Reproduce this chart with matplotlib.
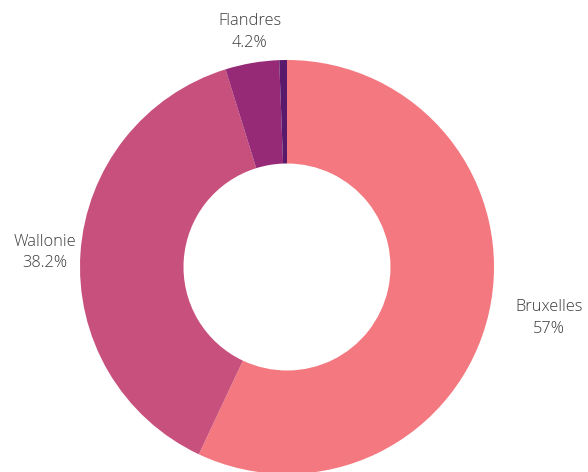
import numpy as np
import matplotlib.pyplot as plt

regions = ['Bruxelles', 'Wallonie', 'Flandres', 'Autre']
shares = [57.0, 38.2, 4.2, 0.6]
colors = ['#F4787F', '#C8507D', '#962A77', '#5A1A6C']
show_label = [True, True, True, False]

# label placement: radius factor and alignment per slice
label_r = [1.13, 1.02, 1.06, 1.1]
label_ha = ['left', 'right', 'center', 'center']
label_va = ['center', 'center', 'bottom', 'bottom']

W, H = 588, 472
fig = plt.figure(figsize=(W / 100, H / 100), dpi=100)
ax = fig.add_axes([0, 0, 1, 1])

cx, cy, R = 287, H - 267, 207
ax.pie(shares, colors=colors, startangle=90, counterclock=False,
       center=(cx, cy), radius=R, frame=True,
       wedgeprops=dict(width=R * 0.5, linewidth=0))
ax.set_xlim(0, W)
ax.set_ylim(0, H)
ax.set_aspect('equal')
ax.axis('off')

total = sum(shares)
cum = 0
for name, v, show, rf, ha, va in zip(regions, shares, show_label, label_r, label_ha, label_va):
    mid = 90 - (cum + v / 2) / total * 360
    cum += v
    if not show:
        continue
    a = np.deg2rad(mid)
    x = cx + rf * R * np.cos(a)
    y = cy + rf * R * np.sin(a)
    ax.text(x, y, f'{name}\n{v:g}%', ha=ha, va=va, multialignment='center',
            fontsize=11.8, family='Open Sans', weight='light', color='#3a3a3a',
            linespacing=1.45)

fig.savefig('out.png', dpi=100)
